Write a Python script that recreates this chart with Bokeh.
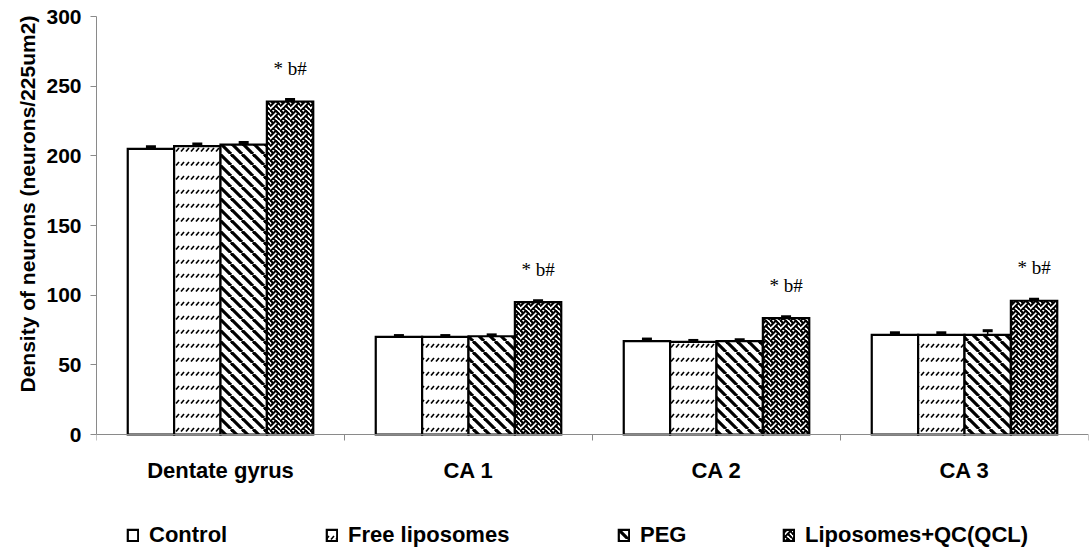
import base64

import numpy as np
from bokeh.core.properties import value
from bokeh.embed import file_html
from bokeh.models import (ColumnDataSource, FixedTicker, ImageURLTexture, Legend,
                          LegendItem, Range1d, TeeHead, Title, Whisker)
from bokeh.plotting import figure
from bokeh.resources import INLINE

# ---- data -------------------------------------------------------------
regions = ["Dentate gyrus", "CA 1", "CA 2", "CA 3"]
groups = ["Control", "Free liposomes", "PEG", "Liposomes+QC(QCL)"]

control = [205, 70, 67, 71.5]
free_liposomes = [207, 70, 66.5, 71.5]
peg = [208, 70.5, 67, 71.5]
qcl = [239, 95, 83.5, 96]

control_err = [1.5, 1, 1.5, 1.5]
free_liposomes_err = [1.5, 1, 1, 1.5]
peg_err = [1.5, 1, 1, 3]
qcl_err = [1.5, 1, 1, 1]

significance = ["* b#", "* b#", "* b#", "* b#"]
y_ticks = [0, 50, 100, 150, 200, 250, 300]
y_label = "Density of neurons (neurons/225um2)"

series = [control, free_liposomes, peg, qcl]
errors = [control_err, free_liposomes_err, peg_err, qcl_err]

# ---- fill textures ----------------------------------------------------
def svg_url(svg):
    return "data:image/svg+xml;base64," + base64.b64encode(svg.encode()).decode()


def svg_tile(w, h, body):
    return (f"<svg xmlns='http://www.w3.org/2000/svg' width='{w}' height='{h}'>"
            + body + "</svg>")


# short upward dashes laid out in rows
dash_svg = svg_tile(5, 14, "<line x1='1.0' y1='11.6' x2='4.0' y2='8.0' "
                           "stroke='black' stroke-width='1.6'/>")

# wide downward diagonal stripes
stripe = 11
stripe_body = "".join(
    f"<line x1='{-stripe + o}' y1='0' x2='{o}' y2='{stripe}' stroke='black' "
    f"stroke-width='3.2'/>" for o in (0, stripe, 2 * stripe))
stripe_svg = svg_tile(stripe, stripe, stripe_body)

# 8x8 weave bitmap drawn as connected diagonal strokes
weave_bits = [0x88, 0x54, 0x22, 0x45, 0x88, 0x14, 0x22, 0x51]
on = {(x, y) for y, b in enumerate(weave_bits) for x in range(8) if (b >> (7 - x)) & 1}
cell = 1.3
size = 8 * cell
lines = []
for (x, y) in on:
    for dx in (1, -1):
        if ((x + dx) % 8, (y + 1) % 8) in on:
            for ox in (-8, 0, 8):
                for oy in (-8, 0, 8):
                    x1 = (x + ox + 0.5) * cell
                    y1 = (y + oy + 0.5) * cell
                    x2 = (x + dx + ox + 0.5) * cell
                    y2 = (y + 1 + oy + 0.5) * cell
                    lines.append(f"<line x1='{x1:.2f}' y1='{y1:.2f}' x2='{x2:.2f}' "
                                 f"y2='{y2:.2f}' stroke='black' stroke-width='1.7' "
                                 f"stroke-linecap='square'/>")
weave_svg = svg_tile(f"{size:.1f}", f"{size:.1f}", "".join(lines))


def textured(name, svg):
    return dict(hatch_pattern=value(name),
                hatch_extra={name: ImageURLTexture(url=svg_url(svg))})


bar_styles = [
    dict(),
    textured("dash", dash_svg),
    textured("stripe", stripe_svg),
    textured("weave", weave_svg),
]

BOLD_FONT = "Liberation Sans"
AXIS_GREY = "#8a8a8a"

# ---- chart ------------------------------------------------------------
# The plotting area runs down to the bottom edge so that the category
# labels and the legend can live inside it, below the zero line.
WIDTH, HEIGHT = 1092, 550
TOP, LEFT, RIGHT = 16, 96, 4
AXIS_PX = 418                       # pixels spanned by 0..300
y_max = y_ticks[-1]
px_per_unit = AXIS_PX / y_max
y_min = -(HEIGHT - TOP - AXIS_PX) / px_per_unit

p = figure(width=WIDTH, height=HEIGHT, x_range=Range1d(0, len(regions)),
           y_range=Range1d(y_min, y_max), output_backend="svg",
           toolbar_location=None, x_axis_location=None,
           min_border_left=LEFT, min_border_right=RIGHT, min_border_top=TOP,
           min_border_bottom=0)
p.outline_line_color = None
p.xgrid.visible = False
p.ygrid.visible = False

centers = np.arange(len(regions)) + 0.5
bounds = np.arange(len(regions) + 1, dtype=float)
bar_w = 0.187
offsets = (np.arange(len(groups)) - 1.5) * bar_w

renderers = []
sources = []
for vals, errs, off, style in zip(series, errors, offsets, bar_styles):
    vals = np.asarray(vals, dtype=float)
    src = ColumnDataSource(dict(x=centers + off, top=vals,
                                upper=vals + np.asarray(errs, dtype=float)))
    r = p.vbar(x="x", top="top", bottom=0, width=bar_w, source=src,
               fill_color="white", line_color="black", line_width=2.2,
               line_join="miter", **style)
    renderers.append(r)
    sources.append(src)

for src in sources:
    p.add_layout(Whisker(base="x", lower="top", upper="upper", source=src,
                         dimension="height", line_color="black", line_width=1.5,
                         upper_head=TeeHead(size=10, line_width=3, line_color="black"),
                         lower_head=None, level="overlay"))

# significance marks over the QCL bars
sig_src = ColumnDataSource(dict(x=sources[3].data["x"], top=sources[3].data["top"],
                                sig=significance))
p.text(x="x", y="top", text="sig", source=sig_src,
       text_align="center", text_baseline="alphabetic", y_offset=-33,
       text_font=value("Liberation Serif"), text_font_size="19px",
       text_color="black")

# ---- category axis along the zero line -------------------------------
p.segment(x0=[bounds[0]], x1=[bounds[-1]], y0=[0], y1=[0],
          line_color=AXIS_GREY, line_width=1)
tick_len = 6 / px_per_unit
p.segment(x0=bounds, x1=bounds, y0=np.zeros_like(bounds),
          y1=np.full_like(bounds, -tick_len), line_color=AXIS_GREY, line_width=1)
p.text(x=centers, y=np.zeros_like(centers), text=regions,
       text_align="center", text_baseline="middle", y_offset=36,
       text_font=value(BOLD_FONT), text_font_style="bold",
       text_font_size="22px", text_color="black")

# ---- value axis -------------------------------------------------------
ya = p.yaxis[0]
ya.bounds = (0, y_max)
ya.ticker = FixedTicker(ticks=y_ticks, minor_ticks=[])
ya.axis_line_color = AXIS_GREY
ya.major_tick_line_color = AXIS_GREY
ya.major_tick_in = 0
ya.major_tick_out = 6
ya.minor_tick_line_color = None
ya.major_label_standoff = 9
ya.major_label_text_font = BOLD_FONT
ya.major_label_text_font_style = "bold"
ya.major_label_text_font_size = "21px"
ya.major_label_text_color = "black"

# axis title set beside the 0..300 span rather than the whole plot height
p.add_layout(Title(text=y_label, align="left", offset=158, standoff=10,
                   text_font=BOLD_FONT, text_font_style="bold",
                   text_font_size="21px", text_color="black"), "left")

# ---- legend entries along the bottom ----------------------------------
legend_x = [30, 229, 521, 686]
for name, r, lx in zip(groups, renderers, legend_x):
    lg = Legend(items=[LegendItem(label=name, renderers=[r], index=0)],
                location=(lx, 2), orientation="horizontal",
                padding=0, margin=0, spacing=0,
                glyph_width=13, glyph_height=14, label_standoff=10,
                label_height=22, border_line_color=None,
                background_fill_alpha=0,
                label_text_font=BOLD_FONT, label_text_font_style="bold",
                label_text_font_size="22px", label_text_color="black")
    p.add_layout(lg)

open("out.html", "w").write(file_html(p, INLINE))
